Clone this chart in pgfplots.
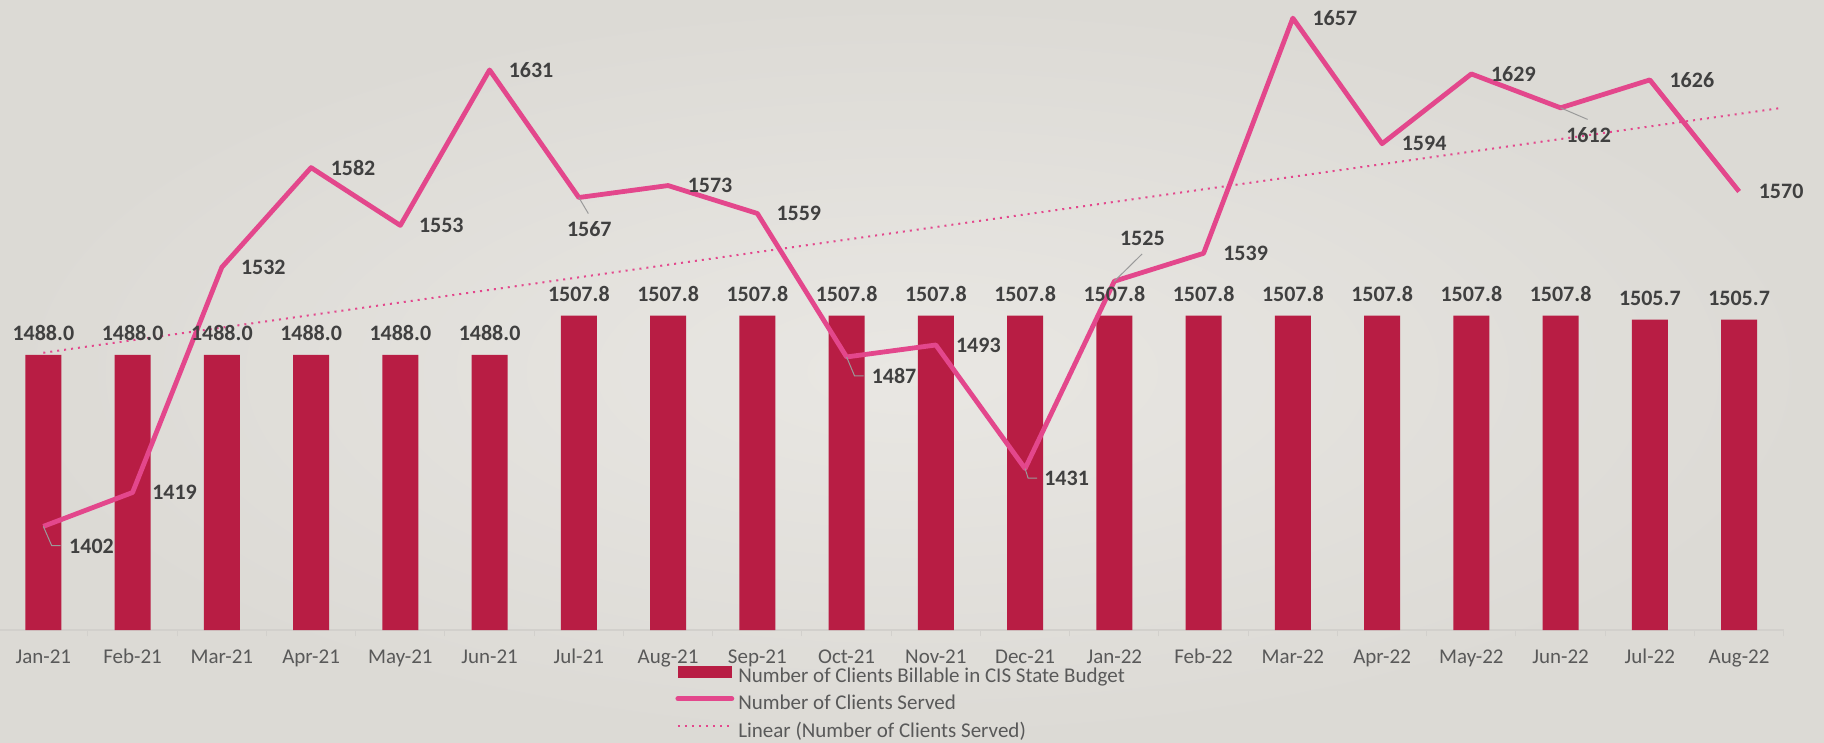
\documentclass[border=0pt]{standalone}
\usepackage{pgfplots}
\pgfplotsset{compat=1.18}
\usepackage{fontspec}
\setmainfont{Carlito}
\definecolor{bgin}{HTML}{E9E7E3}
\definecolor{bgout}{HTML}{DCDAD5}
\definecolor{barred}{HTML}{B81D44}
\definecolor{linepink}{HTML}{E3478C}
\definecolor{labgray}{HTML}{404040}
\definecolor{tickgray}{HTML}{595959}
\definecolor{axisgray}{HTML}{D2D0CC}
\definecolor{leadgray}{HTML}{9A9A9A}
\begin{document}
\begin{tikzpicture}
\shade[inner color=bgin, outer color=bgout] (0pt,0pt) rectangle (912pt,-371.5pt);
\begin{axis}[
  at={(-0.65pt,-315pt)}, anchor=south west,
  scale only axis, width=892.5pt, height=314.9pt,
  xmin=-0.5, xmax=19.5, ymin=1350, ymax=1666,
  axis y line=none, axis x line*=bottom,
  x axis line style={draw=axisgray, line width=0.6pt, -},
  xtick={0,...,19},
  xticklabels={Jan-21,Feb-21,Mar-21,Apr-21,May-21,Jun-21,Jul-21,Aug-21,Sep-21,Oct-21,Nov-21,Dec-21,Jan-22,Feb-22,Mar-22,Apr-22,May-22,Jun-22,Jul-22,Aug-22},
  major tick length=0pt,
  minor xtick={-0.5,0.5,...,19.5}, minor tick length=3pt, tick align=outside,
  minor tick style={draw=axisgray, line width=0.5pt},
  xticklabel style={anchor=base, yshift=-16.5pt, font=\fontsize{10.5}{12}\selectfont, text=tickgray},
  clip=false,
  legend cell align=left,
  legend style={at={(0.3789,-0.0535)}, anchor=north west, draw=none, fill=none,
    inner sep=0pt, row sep=0.6pt, column sep=0pt,
    font=\fontsize{10.5}{12}\selectfont, text=tickgray},
]
\addplot[ybar, bar width=18pt, fill=barred, draw=none,
  point meta=explicit symbolic, nodes near coords,
  every node near coord/.append style={font=\bfseries\fontsize{11}{12}\selectfont, text=labgray, anchor=base, yshift=7pt},
  legend image code/.code={\fill[barred] (0pt,-0.5pt) rectangle (27pt,5.5pt);}]
  table[x=x, y=y, meta=y] {
x y
0 1488.0
1 1488.0
2 1488.0
3 1488.0
4 1488.0
5 1488.0
6 1507.8
7 1507.8
8 1507.8
9 1507.8
10 1507.8
11 1507.8
12 1507.8
13 1507.8
14 1507.8
15 1507.8
16 1507.8
17 1507.8
18 1505.7
19 1505.7
};
\addlegendentry{Number of Clients Billable in CIS State Budget}
\addplot[color=linepink, line width=2.4pt, line join=round, mark=none,
  point meta=explicit symbolic, nodes near coords,
  visualization depends on={\thisrow{dx} \as \dx},
  visualization depends on={\thisrow{dy} \as \dy},
  every node near coord/.append style={font=\bfseries\fontsize{11}{12}\selectfont, text=labgray, anchor=center, xshift=\dx pt, yshift=\dy pt},
  legend image code/.code={\draw[linepink, line width=2.4pt, line cap=round] (0pt,2.5pt) -- (27pt,2.5pt);}]
  table[x=x, y=y, meta=y] {
x y dx dy
0 1402 24.1 -10
1 1419 21 0
2 1532 20.75 0
3 1582 21 0
4 1553 20.5 0
5 1631 20.75 0
6 1567 5.25 -16
7 1573 21 0
8 1559 20.75 0
9 1487 23.75 -9.5
10 1493 21.25 0
11 1431 20.75 -4.75
12 1525 14 21.5
13 1539 21 0
14 1657 21 0
15 1594 21 0
16 1629 21 0
17 1612 14 -13.5
18 1626 21 0
19 1570 21 0
};
\addlegendentry{Number of Clients Served}
\addplot[color=linepink, line width=1pt, dash pattern=on 1pt off 2.5pt, mark=none,
  legend image code/.code={\draw[linepink, line width=1pt, dash pattern=on 1pt off 2.5pt] (0pt,2.5pt) -- (27pt,2.5pt);}]
  coordinates {(0,1489.1) (19.45,1611.8)};
\addlegendentry{Linear (Number of Clients Served)}
\draw[leadgray, line width=0.5pt] (axis cs:0,1402) -- ++(4.2pt,-9.65pt) -- ++(4.5pt,0pt);
\draw[leadgray, line width=0.5pt] (axis cs:6,1567) -- ++(4.75pt,-8pt);
\draw[leadgray, line width=0.5pt] (axis cs:9,1487) -- ++(4pt,-9.5pt) -- ++(4.5pt,0pt);
\draw[leadgray, line width=0.5pt] (axis cs:11,1431) -- ++(1.5pt,-4.75pt) -- ++(4.5pt,0pt);
\draw[leadgray, line width=0.5pt] (axis cs:12,1525) -- ++(13.85pt,13.6pt);
\draw[leadgray, line width=0.5pt] (axis cs:17,1612) -- ++(13.5pt,-5.8pt);
\end{axis}
\pgfresetboundingbox
\path (0pt,0pt) rectangle (912pt,-371.5pt);
\end{tikzpicture}
\end{document}
